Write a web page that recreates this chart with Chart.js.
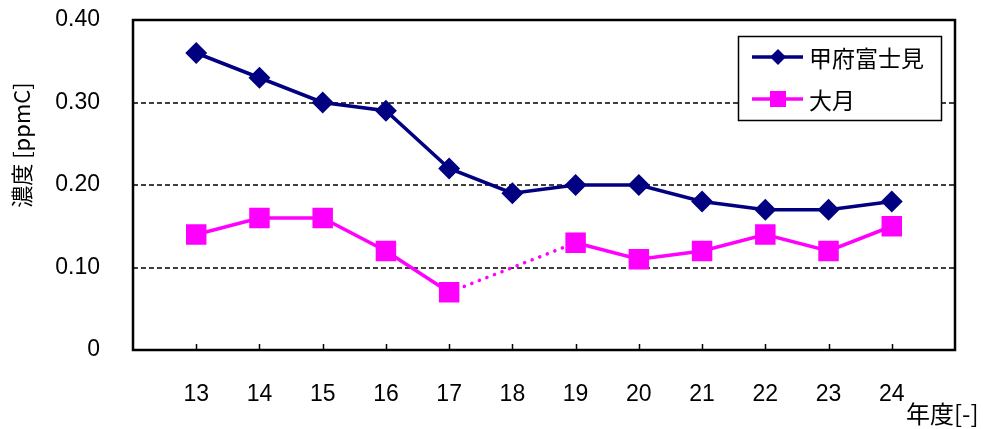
<!DOCTYPE html>
<html>
<head>
<meta charset="utf-8">
<script src="https://cdn.jsdelivr.net/npm/chart.js@4.4.0/dist/chart.umd.min.js"></script>
<style>
    html, body { margin: 0; padding: 0; background: #fff; }
    #wrap { width: 983px; height: 429px; position: relative; }
</style>
</head>
<body>
<div id="wrap"><canvas id="chart"></canvas></div>
<script>
// Data
const years = [13, 14, 15, 16, 17, 18, 19, 20, 21, 22, 23, 24];
const kofuFujimi = [0.36, 0.33, 0.30, 0.29, 0.22, 0.19, 0.20, 0.20, 0.18, 0.17, 0.17, 0.18];
const otsuki = [0.14, 0.16, 0.16, 0.12, 0.07, null, 0.13, 0.11, 0.12, 0.14, 0.12, 0.15];
const seriesNames = ['甲府富士見', '大月'];
const yTicks = [0, 0.10, 0.20, 0.30, 0.40];
const yTitle = '濃度 [ppmC]';
const xTitle = '年度[-]';

const NUM_FONT = '"Liberation Sans", Arial, sans-serif';
const JP_FONT = '"Noto Sans CJK JP", "Liberation Sans", sans-serif';

function toPoints(values) {
    return years.map((yr, i) => ({ x: yr, y: values[i] }));
}

// Frame, dashed grid, tick marks, legend and axis titles
const decorations = {
    id: 'decorations',
    beforeDatasetsDraw(chart) {
        const ctx = chart.ctx;
        const area = chart.chartArea;
        const xs = chart.scales.x;
        const ys = chart.scales.y;
        ctx.save();
        ctx.strokeStyle = '#000';
        ctx.lineWidth = 1.5;
        ctx.setLineDash([5, 3]);
        [0.10, 0.20, 0.30].forEach(v => {
            const py = Math.round(ys.getPixelForValue(v));
            ctx.beginPath();
            ctx.moveTo(area.left, py);
            ctx.lineTo(area.right, py);
            ctx.stroke();
        });
        ctx.setLineDash([]);
        ctx.lineWidth = 2.5;
        ctx.strokeRect(area.left, area.top, area.right - area.left, area.bottom - area.top);
        // tick marks on the x axis, pointing up
        ctx.lineWidth = 1.5;
        years.forEach(yr => {
            const px = Math.round(xs.getPixelForValue(yr)) + 0.5;
            ctx.beginPath();
            ctx.moveTo(px, area.bottom);
            ctx.lineTo(px, area.bottom - 6);
            ctx.stroke();
        });
        ctx.restore();
    },
    afterDraw(chart) {
        const ctx = chart.ctx;
        ctx.save();
        // y axis title
        ctx.fillStyle = '#000';
        ctx.font = '22px ' + JP_FONT;
        ctx.translate(22, 145);
        ctx.rotate(-Math.PI / 2);
        ctx.textAlign = 'center';
        ctx.textBaseline = 'middle';
        ctx.fillText(yTitle, 0, 0);
        ctx.restore();

        ctx.save();
        ctx.font = '24px ' + JP_FONT;
        ctx.textAlign = 'left';
        ctx.textBaseline = 'middle';
        ctx.fillStyle = '#000';
        ctx.fillText(xTitle, 906, 414);

        // legend
        ctx.fillStyle = '#fff';
        ctx.fillRect(738, 36, 203, 84);
        ctx.strokeStyle = '#000';
        ctx.lineWidth = 1.5;
        ctx.strokeRect(738.5, 36.5, 203, 84);
        const rows = [57, 99];
        chart.data.datasets.forEach((ds, i) => {
            const y = rows[i];
            ctx.strokeStyle = ds.borderColor;
            ctx.lineWidth = 3.5;
            ctx.beginPath();
            ctx.moveTo(752, y);
            ctx.lineTo(803, y);
            ctx.stroke();
            ctx.fillStyle = ds.pointBackgroundColor;
            if (ds.pointStyle === 'rectRot') {
                ctx.beginPath();
                ctx.moveTo(778, y - 8);
                ctx.lineTo(786, y);
                ctx.lineTo(778, y + 8);
                ctx.lineTo(770, y);
                ctx.closePath();
                ctx.fill();
            } else {
                ctx.fillRect(770, y - 8, 16, 16);
            }
            ctx.fillStyle = '#000';
            ctx.font = '23px ' + JP_FONT;
            ctx.fillText(ds.label, 809, y + 1);
        });
        ctx.restore();
    }
};

new Chart(document.getElementById('chart'), {
    type: 'line',
    data: {
        datasets: [
            {
                label: seriesNames[0],
                data: toPoints(kofuFujimi),
                borderColor: '#000080',
                backgroundColor: '#000080',
                pointBackgroundColor: '#000080',
                pointBorderColor: '#000080',
                pointStyle: 'rectRot',
                pointRadius: 8.5,
                pointHoverRadius: 8.5,
                borderWidth: 3.5,
                tension: 0
            },
            {
                label: seriesNames[1],
                data: toPoints(otsuki),
                borderColor: '#ff00ff',
                backgroundColor: '#ff00ff',
                pointBackgroundColor: '#ff00ff',
                pointBorderColor: '#ff00ff',
                pointStyle: 'rect',
                pointRadius: 12,
                pointHoverRadius: 12,
                borderWidth: 3.5,
                borderCapStyle: 'round',
                spanGaps: true,
                segment: {
                    borderDash: ctx => (ctx.p0.skip || ctx.p1.skip) ? [0.1, 8] : undefined
                },
                tension: 0
            }
        ]
    },
    options: {
        responsive: true,
        maintainAspectRatio: false,
        animation: false,
        layout: { autoPadding: false, padding: { top: 20, right: 28, left: 0, bottom: 0 } },
        plugins: {
            legend: { display: false },
            tooltip: { enabled: false }
        },
        scales: {
            x: {
                type: 'linear',
                min: 12,
                max: 25,
                // ticks are drawn by the plugin; tickLength only pushes the labels down
                grid: { display: false, drawTicks: true, tickLength: 31 },
                border: { display: false },
                afterFit(scale) { scale.height = 79; },
                afterBuildTicks(scale) {
                    scale.ticks = years.map(v => ({ value: v }));
                },
                ticks: {
                    padding: 0,
                    color: '#000',
                    font: { family: NUM_FONT, size: 23 },
                    maxRotation: 0,
                    autoSkip: false,
                    callback: v => String(v)
                }
            },
            y: {
                min: 0,
                max: 0.40,
                grid: { display: false, drawTicks: true, tickLength: 33 },
                border: { display: false },
                afterFit(scale) { scale.width = 133; },
                afterBuildTicks(scale) {
                    scale.ticks = yTicks.map(v => ({ value: v }));
                },
                ticks: {
                    padding: 0,
                    color: '#000',
                    font: { family: NUM_FONT, size: 23 },
                    callback: v => v === 0 ? '0' : v.toFixed(2)
                }
            }
        }
    },
    plugins: [decorations]
});
</script>
</body>
</html>
